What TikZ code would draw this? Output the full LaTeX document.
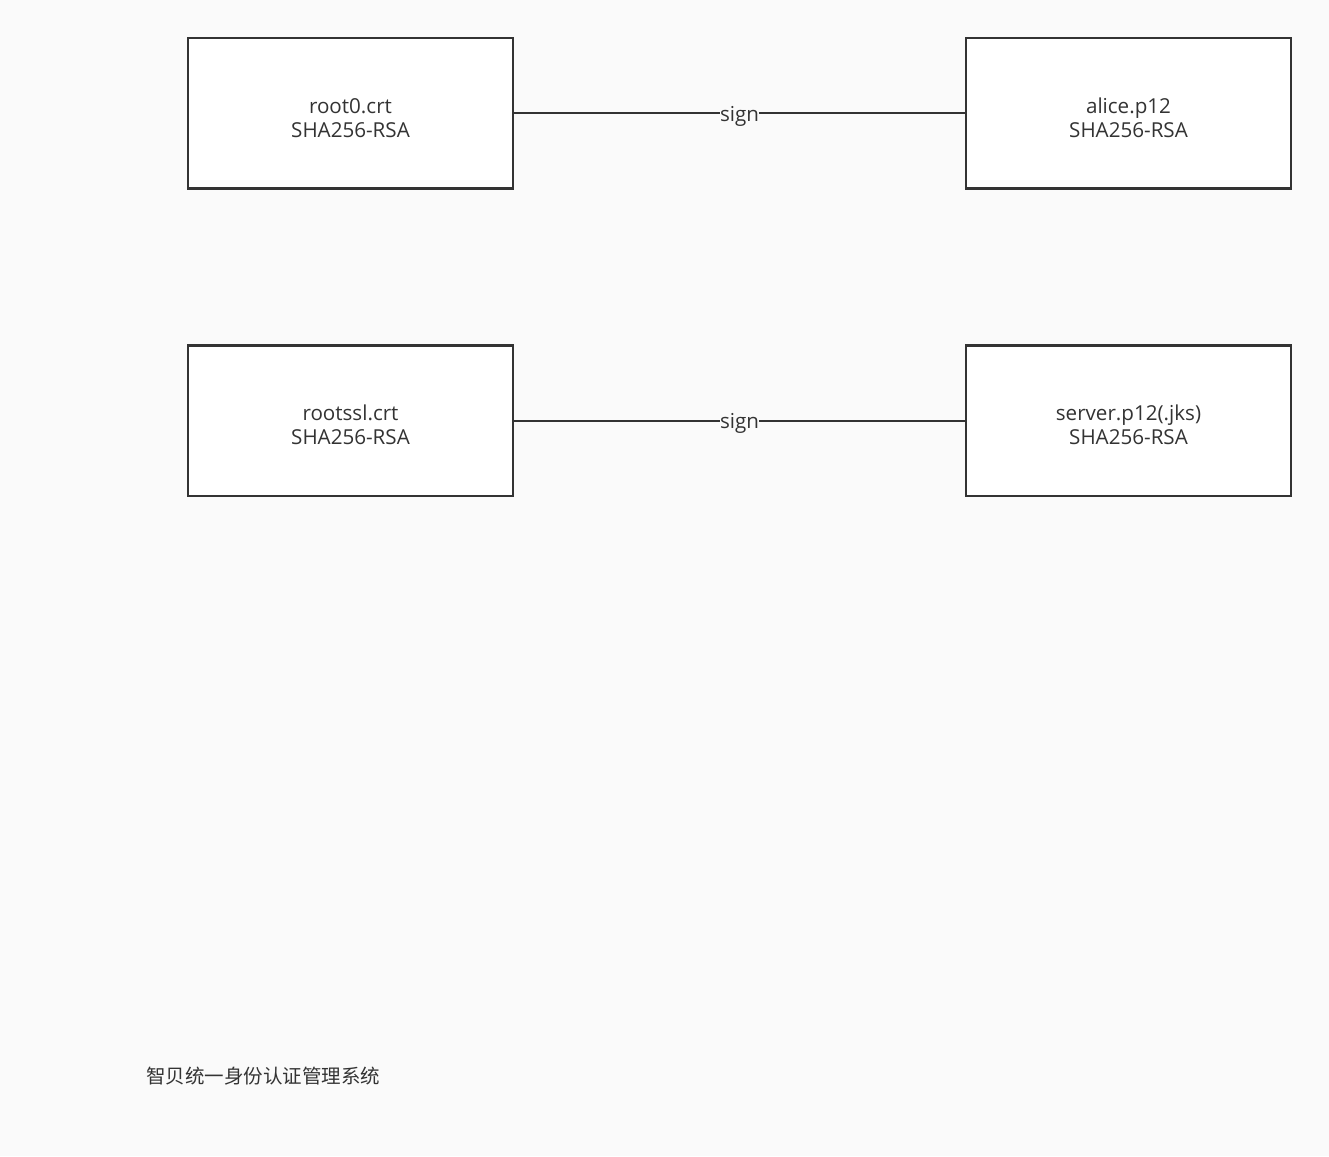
\documentclass[tikz,border=0pt]{standalone}
\usepackage{fontspec}
\setmainfont{Open Sans}
\newfontfamily\cjk{Noto Sans CJK SC}
\usetikzlibrary{positioning}

% Changing color 250 250 250
\definecolor{r250g250b250}{rgb}{0.980392,0.980392,0.980392}
% Changing color 51 51 51
\definecolor{r51g51b51}{rgb}{0.200000,0.200000,0.200000}

% taller first line, so the two lines sit a little low as in the reference
\newcommand{\boxstrut}{\rule{0pt}{24pt}}

\tikzset{
  certbox/.style={draw=r51g51b51, fill=white, line width=2.4pt, inner sep=0pt,
    minimum width=325pt, minimum height=150.5pt, align=center, text=r51g51b51,
    font=\fontsize{20.6}{24}\selectfont},
  signlabel/.style={fill=r250g250b250, inner sep=0.5pt, yshift=-3pt, text=r51g51b51,
    font=\fontsize{20.6}{24}\selectfont},
  signline/.style={draw=r51g51b51, line width=2.3pt}
}

\begin{document}
\begin{tikzpicture}[x=1pt,y=-1pt]
% \clip (0,0) rectangle (1329,1156);
\useasboundingbox[fill=r250g250b250] (0,0) rectangle (1329,1156);

% Box root0
\node[certbox] (root0) at (350.5,113.2) {\boxstrut root0.crt\\SHA256-RSA};

% Box alice
\node[certbox, right=450.6pt of root0] (alice) {\boxstrut alice.p12\\SHA256-RSA};

% Box rootssl
\node[certbox, below=154.6pt of root0] (rootssl) {\boxstrut rootssl.crt\\SHA256-RSA};

% Box server
\node[certbox, below=154.6pt of alice] (server) {\boxstrut server.p12(.jks)\\SHA256-RSA};

% Drawing line root0 alice
\draw[signline] (root0) -- node[signlabel] (sign0) {sign} (alice);

% Drawing line rootssl server
\draw[signline] (rootssl) -- node[signlabel] (sign1) {sign} (server);

% Title
\node[anchor=west, inner sep=0pt, text=r51g51b51, font=\cjk\fontsize{19.5}{24}\selectfont] (title) at (146,1076) {智贝统一身份认证管理系统};
\end{tikzpicture}
\end{document}
